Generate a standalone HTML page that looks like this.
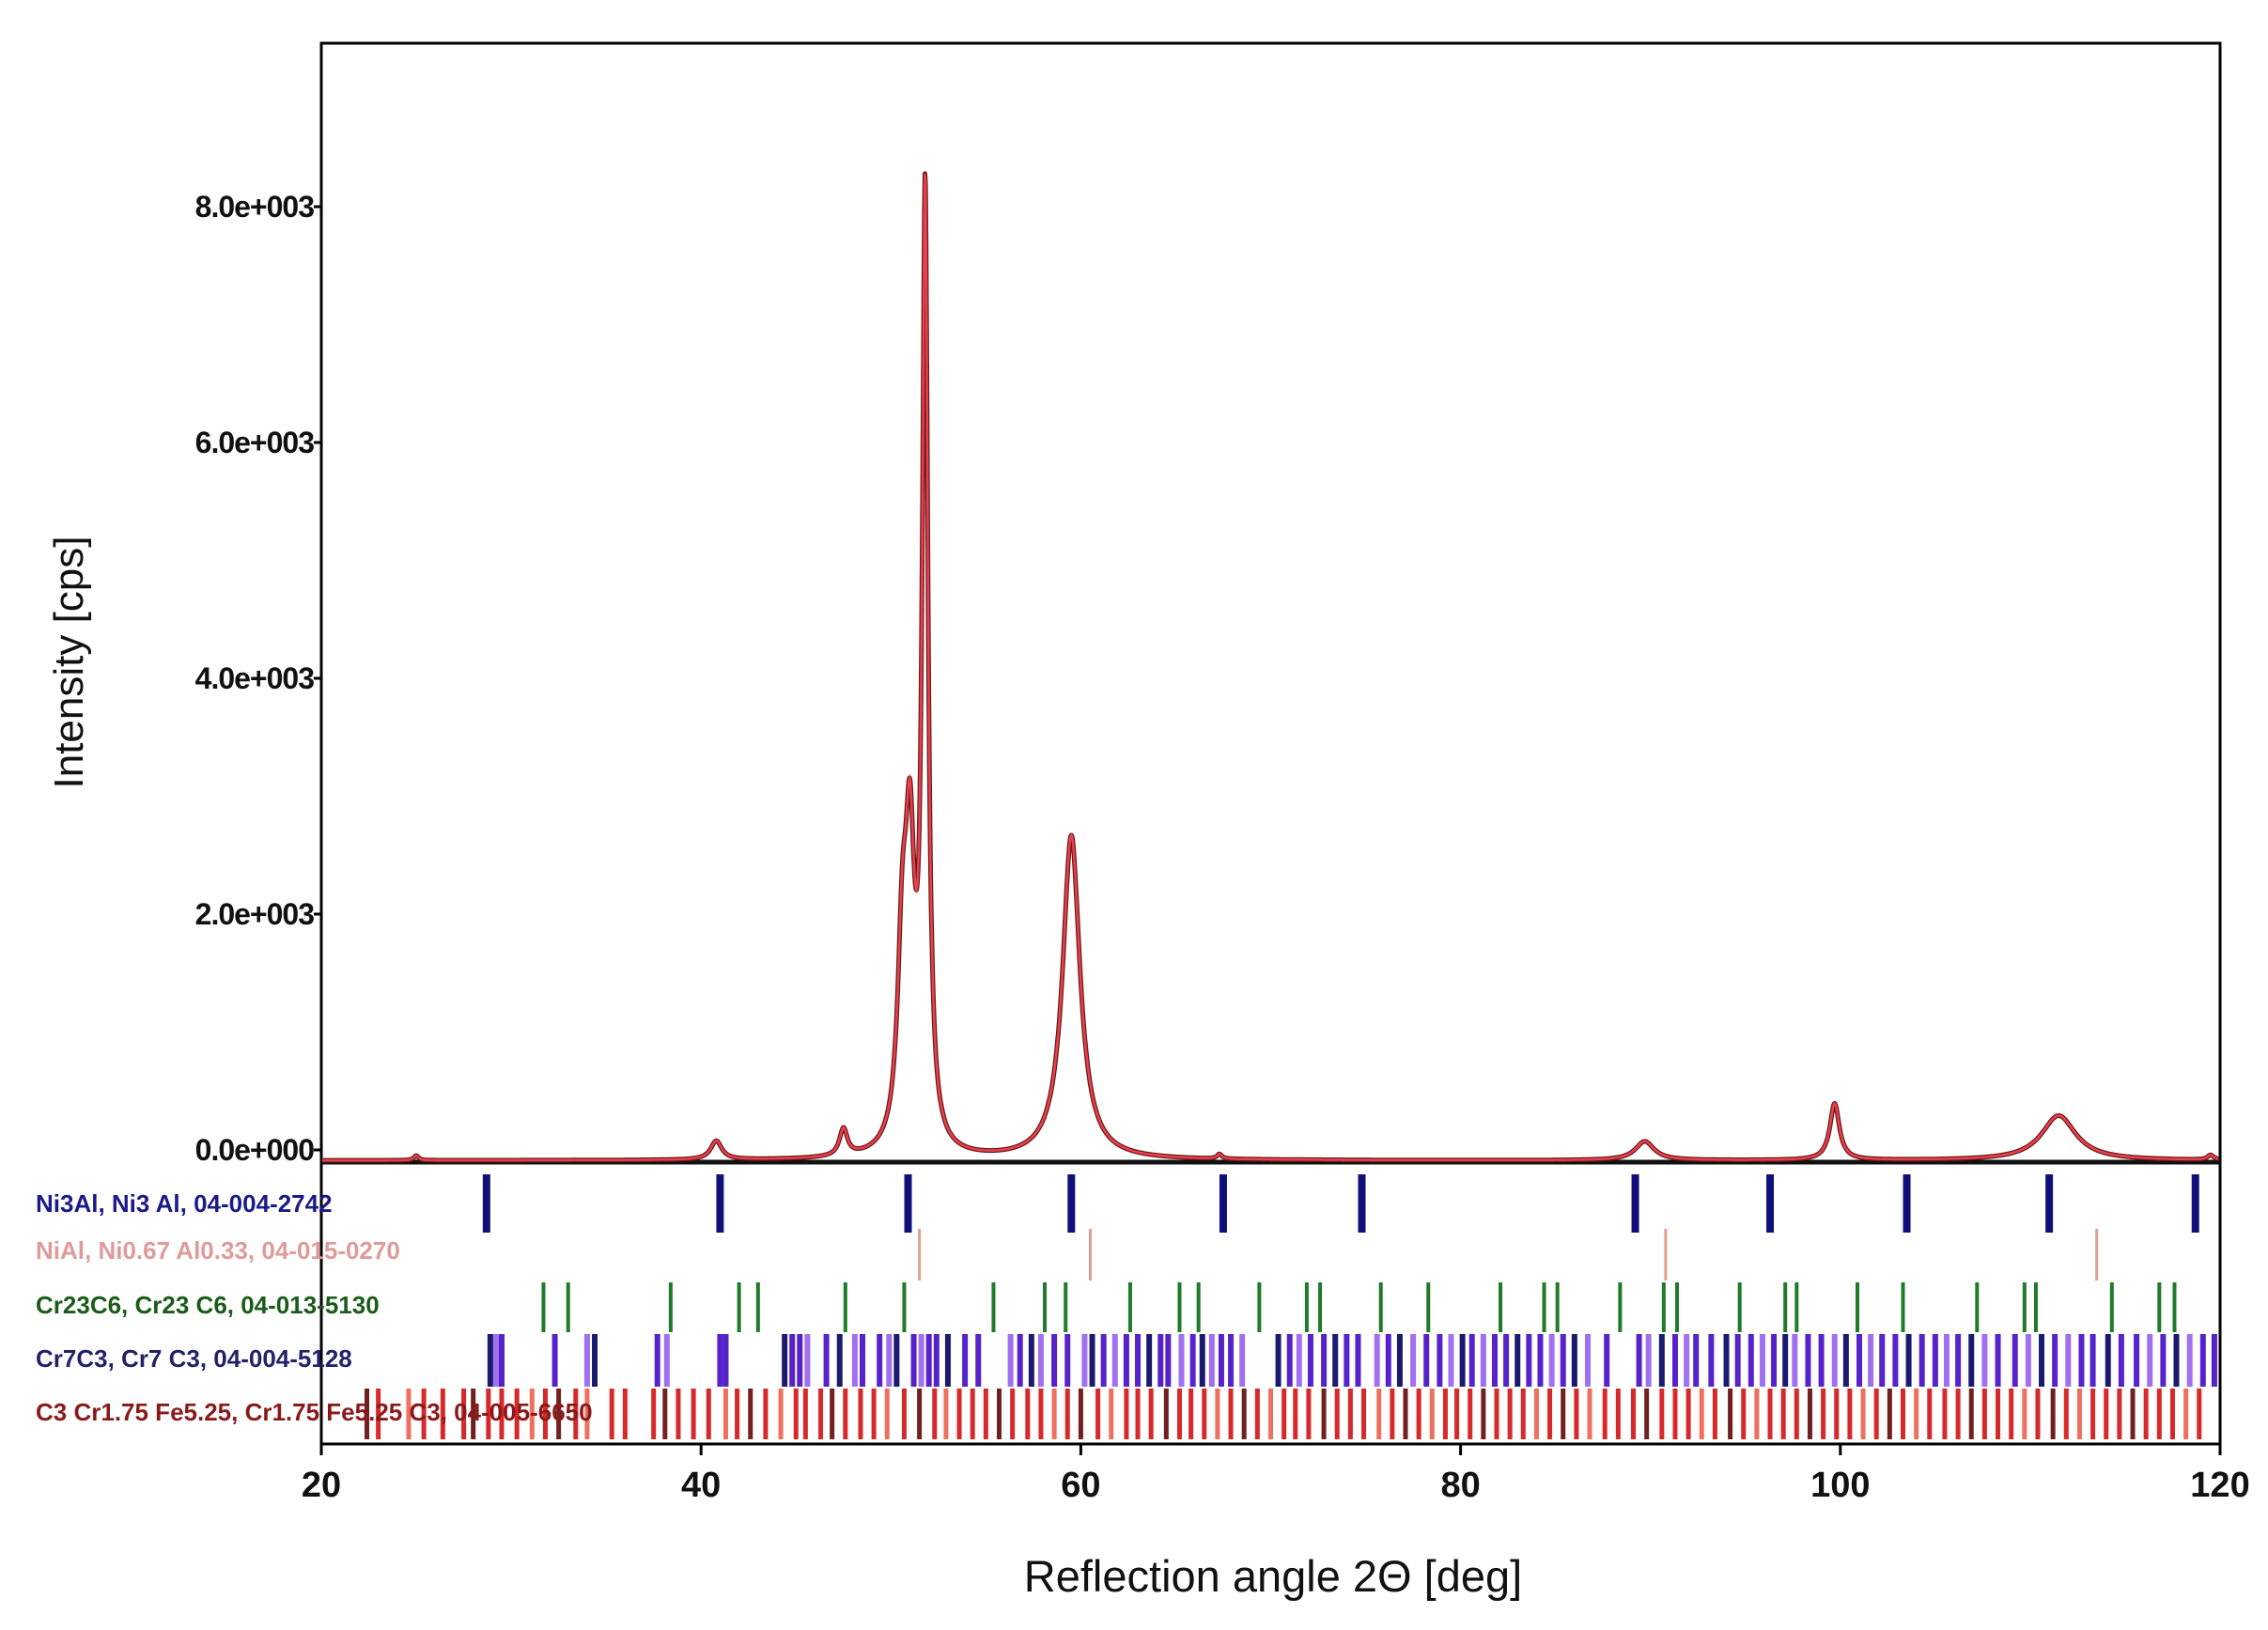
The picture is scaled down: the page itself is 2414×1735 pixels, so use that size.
<!DOCTYPE html>
<html><head><meta charset="utf-8"><style>
html,body{margin:0;padding:0;background:#fff;}
svg{display:block;font-family:"Liberation Sans",sans-serif;}
</style></head><body>
<svg id="chart" width="2414" height="1735" viewBox="0 0 2414 1735" xmlns="http://www.w3.org/2000/svg">
<g id="plot"></g>
</svg>
<script>
// ---- data ----
const peakCenters = [25.0, 40.8, 47.5, 50.6, 51.0, 51.8, 59.5, 67.3, 89.7, 99.7, 111.5, 119.5];
const peakHeights = [40, 160, 230, 1500, 2300, 8000, 2750, 40, 160, 480, 380, 40];
const peakWidths  = [0.15, 0.35, 0.25, 0.3, 0.3, 0.18, 0.55, 0.15, 0.6, 0.3, 1.1, 0.2];
const background = -90;
const yTicks = [0, 2000, 4000, 6000, 8000];
const yTickLabels = ["0.0e+000", "2.0e+003", "4.0e+003", "6.0e+003", "8.0e+003"];
const xTicks = [20, 40, 60, 80, 100, 120];
const ni3alPeaks = [28.7, 41.0, 50.9, 59.5, 67.5, 74.8, 89.2, 96.3, 103.5, 111.0, 118.7];
const nialPeaks = [51.5, 60.5, 90.8, 113.5];
const cr23c6Peaks = [31.7,33.0,38.4,42.0,43.0,47.6,50.7,55.4,58.1,59.2,62.6,65.2,66.2,69.4,71.9,72.6,75.8,78.3,82.1,84.4,85.1,88.4,90.7,91.4,94.7,97.1,97.7,100.9,103.3,107.2,109.7,110.3,114.3,116.8,117.6];
const cr7c3Peaks = [28.9,29.2,29.5,32.3,34.0,34.4,37.7,38.2,41.0,41.3,44.4,44.8,45.2,45.6,46.6,47.3,48.1,48.5,49.4,49.9,50.3,51.2,51.6,52.0,52.4,53.0,53.9,54.6,56.3,56.8,57.4,57.9,58.6,59.3,60.2,60.6,61.2,61.8,62.4,63.0,63.6,64.2,64.6,65.3,65.9,66.4,66.9,67.4,67.9,68.5,70.4,71.0,71.5,72.1,72.8,73.4,74.0,74.6,75.6,76.2,76.8,77.5,78.2,78.9,79.5,80.1,80.6,81.2,81.8,82.4,83.0,83.6,84.2,84.8,85.4,86.0,86.7,87.7,89.4,89.9,90.6,91.3,91.9,92.4,93.2,94.0,94.6,95.3,95.9,96.5,97.1,97.6,98.3,99.0,99.7,100.3,101.0,101.6,102.2,102.9,103.6,104.3,105.0,105.6,106.2,106.9,107.6,108.3,109.2,109.9,110.6,111.3,112.0,112.7,113.3,114.1,114.8,115.6,116.3,117.0,117.7,118.4,119.1,119.7];
const crfePeaks = [22.4,23.0,24.6,25.4,26.4,27.5,28.0,28.8,29.5,30.3,31.1,31.8,32.5,33.4,34.0,35.3,36.0,37.5,38.1,38.8,39.6,40.4,41.3,41.9,42.6,43.4,44.2,45.0,45.5,46.3,46.9,47.6,48.4,49.1,49.8,50.7,51.5,52.3,52.9,53.6,54.3,55.0,55.7,56.4,57.2,57.9,58.6,59.3,60.0,60.9,61.6,62.4,63.0,63.7,64.5,65.2,65.8,66.5,67.2,67.9,68.6,69.3,70.0,70.7,71.3,72.0,72.8,73.5,74.2,74.9,75.7,76.4,77.1,77.8,78.5,79.2,79.8,80.5,81.2,81.9,82.6,83.3,84.0,84.7,85.4,86.1,86.8,87.6,88.3,89.1,89.8,90.6,91.3,92.0,92.7,93.4,94.2,94.9,95.6,96.3,97.0,97.7,98.4,99.1,99.8,100.5,101.2,101.9,102.6,103.3,104.0,104.7,105.5,106.2,106.9,107.6,108.3,109.0,109.7,110.4,111.2,111.9,112.6,113.3,114.0,114.7,115.4,116.1,116.8,117.5,118.2,118.9];

const NS = "http://www.w3.org/2000/svg";
const L = 342, R = 2363, T = 46, B = 1537, SEP = 1237;
const xS = v => L + (v - 20) / 100 * (R - L);
const y0 = 1224, yPer = (1224 - 220) / 8000;
const yS = v => y0 - v * yPer;
const g = document.getElementById('plot');
function mk(tag, attrs, parent) {
  const e = document.createElementNS(NS, tag);
  for (const k in attrs) e.setAttribute(k, attrs[k]);
  (parent || g).appendChild(e);
  return e;
}
const frame = mk('rect', {x: L, y: T, width: R - L, height: B - T, fill: 'none', stroke: '#000', 'stroke-width': 3});


const sep = mk('line', {x1: L, x2: R, y1: SEP, y2: SEP, stroke: '#111', 'stroke-width': 5});


yTicks.forEach((v, i) => {
  const t = mk('line', {x1: L - 8, x2: L, y1: yS(v), y2: yS(v), stroke: '#000', 'stroke-width': 3});
  
  
  const tx = mk('text', {x: L - 8, y: yS(v) + 11, 'text-anchor': 'end', 'font-size': 32, 'font-weight': 'bold', fill: '#111', 'letter-spacing': '-1'});
  tx.textContent = yTickLabels[i];
  
  
});
xTicks.forEach(v => {
  const t = mk('line', {x1: xS(v), x2: xS(v), y1: B, y2: B + 12, stroke: '#000', 'stroke-width': 3});
  
  
  const tx = mk('text', {x: xS(v), y: B + 56, 'text-anchor': 'middle', 'font-size': 38, 'font-weight': 'bold', fill: '#111'});
  tx.textContent = String(v);
  
  
});
const xt = mk('text', {x: 1355, y: 1694, 'text-anchor': 'middle', 'font-size': 47, fill: '#111'});
xt.textContent = 'Reflection angle 2Θ [deg]';


const yt = mk('text', {x: 0, y: 0, 'text-anchor': 'middle', 'font-size': 44, fill: '#111', transform: 'translate(88,705) rotate(-90)'});
yt.textContent = 'Intensity [cps]';


function inten(x) {
  let s = background;
  for (let i = 0; i < peakCenters.length; i++) {
    const d = (x - peakCenters[i]) / peakWidths[i];
    s += peakHeights[i] / (1 + d * d);
  }
  return s;
}
let d = '';
for (let x = 20.05; x <= 119.95; x += 0.03) {
  d += (d ? 'L' : 'M') + xS(x).toFixed(1) + ' ' + yS(inten(x)).toFixed(1);
}
const l1 = mk('path', {d: d, fill: 'none', stroke: '#6b1a1a', 'stroke-width': 5, 'stroke-linejoin': 'round'});


const l2 = mk('path', {d: d, fill: 'none', stroke: '#e8404f', 'stroke-width': 2.5});


const rows = [
  {name: 'ni3al', peaks: ni3alPeaks, y1: 1250, y2: 1312, color: '#10107a', w: 8, label: 'Ni3Al, Ni3 Al, 04-004-2742', lc: '#1a1a8a', ly: 1290},
  {name: 'nial', peaks: nialPeaks, y1: 1308, y2: 1363, color: '#e0a090', w: 3, label: 'NiAl, Ni0.67 Al0.33, 04-015-0270', lc: '#e09a9a', ly: 1340},
  {name: 'cr23c6', peaks: cr23c6Peaks, y1: 1365, y2: 1418, color: '#1f7a2a', w: 4, label: 'Cr23C6, Cr23 C6, 04-013-5130', lc: '#1a5a1a', ly: 1398},
  {name: 'cr7c3', peaks: cr7c3Peaks, y1: 1420, y2: 1476, color: '#5522cc', w: 6, label: 'Cr7C3, Cr7 C3, 04-004-5128', lc: '#22226a', ly: 1455},
  {name: 'crfe-c3', peaks: crfePeaks, y1: 1478, y2: 1532, color: '#d8282a', w: 5, label: 'C3 Cr1.75 Fe5.25, Cr1.75 Fe5.25 C3, 04-005-6650', lc: '#8a1a1a', ly: 1512}
];
rows.forEach(r => {
  r.peaks.forEach((p, i) => {
    let c = r.color;
    if (r.name === 'cr7c3' && i % 3 === 1) c = '#a070f0';
    if (r.name === 'cr7c3' && i % 5 === 0) c = '#1a1a70';
    if (r.name === 'crfe-c3' && i % 4 === 2) c = '#f07060';
    if (r.name === 'crfe-c3' && i % 6 === 0) c = '#702020';
    const m = mk('line', {x1: xS(p), x2: xS(p), y1: r.y1, y2: r.y2, stroke: c, 'stroke-width': r.w});
    
    
  });
  const t = mk('text', {x: 38, y: r.ly, 'font-size': 26, 'font-weight': 'bold', fill: r.lc});
  t.textContent = r.label;
  
  
});
</script>
</body></html>
